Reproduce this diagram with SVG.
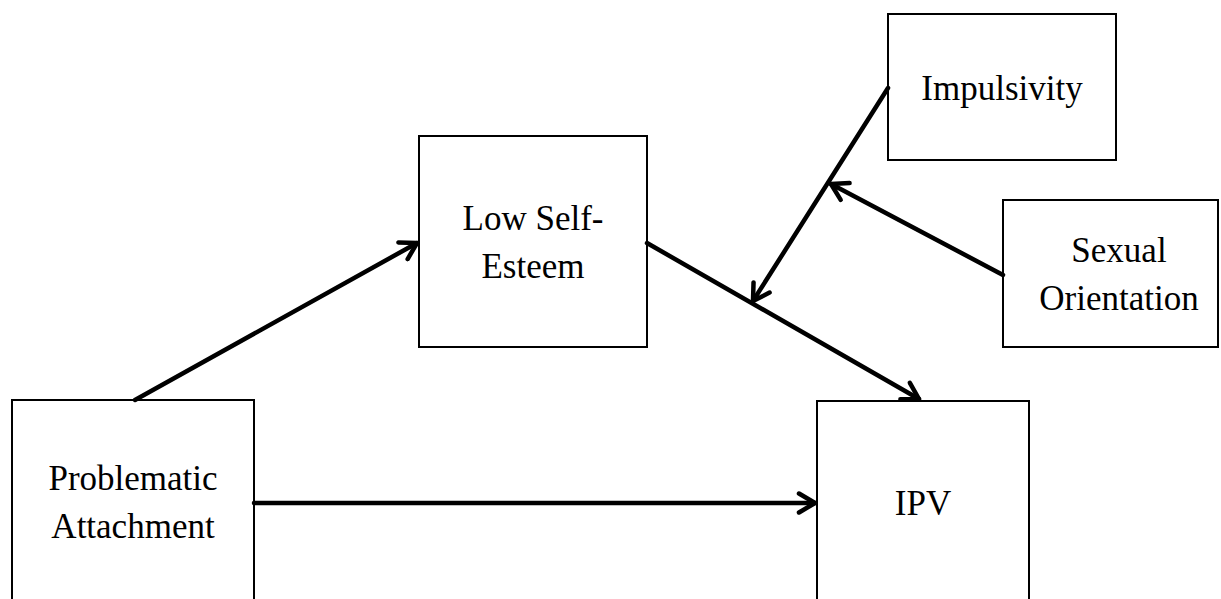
<svg xmlns="http://www.w3.org/2000/svg" width="1221" height="599" viewBox="0 0 1221 599">
<style>
.box{fill:#fff;stroke:#000;stroke-width:2}
.lbl{font-family:"Liberation Serif","Times New Roman",serif;font-size:35px;fill:#000;text-anchor:middle}
.con{stroke:#000;stroke-width:4.5;fill:none;stroke-linecap:round}
</style>
<defs>
<marker id="arr" markerUnits="userSpaceOnUse" viewBox="-20 -12 24 24" refX="0" refY="0" markerWidth="24" markerHeight="24" orient="auto">
<path d="M-16,-9.5 L0,0 L-16,9.5" fill="none" stroke="#000" stroke-width="4.5" stroke-linecap="round" stroke-linejoin="round"/>
</marker>
</defs>
<rect width="1221" height="599" fill="#fff"/>
<g id="node-problematic">
<rect class="box" x="12" y="400" width="242" height="220"/>
<text class="lbl" x="133" y="490">Problematic</text>
<text class="lbl" x="133" y="538">Attachment</text>
</g>
<g id="node-selfesteem">
<rect class="box" x="419" y="136" width="228" height="211"/>
<text class="lbl" x="533" y="230">Low Self-</text>
<text class="lbl" x="533" y="278">Esteem</text>
</g>
<g id="node-impulsivity">
<rect class="box" x="888" y="14" width="228" height="146"/>
<text class="lbl" x="1002" y="100">Impulsivity</text>
</g>
<g id="node-sexual">
<rect class="box" x="1003" y="200" width="215" height="147"/>
<text class="lbl" x="1119" y="262">Sexual</text>
<text class="lbl" x="1119" y="310">Orientation</text>
</g>
<g id="node-ipv">
<rect class="box" x="817" y="401" width="212" height="220"/>
<text class="lbl" x="923" y="515">IPV</text>
</g>
<g id="connectors">
<line class="con" x1="135" y1="400" x2="417" y2="243" marker-end="url(#arr)"/>
<line class="con" x1="647" y1="243" x2="919" y2="399" marker-end="url(#arr)"/>
<line class="con" x1="254" y1="503" x2="815" y2="503" marker-end="url(#arr)"/>
<line class="con" x1="888" y1="88" x2="753" y2="301" marker-end="url(#arr)"/>
<line class="con" x1="1003" y1="275" x2="831" y2="184" marker-end="url(#arr)"/>
</g>
</svg>
